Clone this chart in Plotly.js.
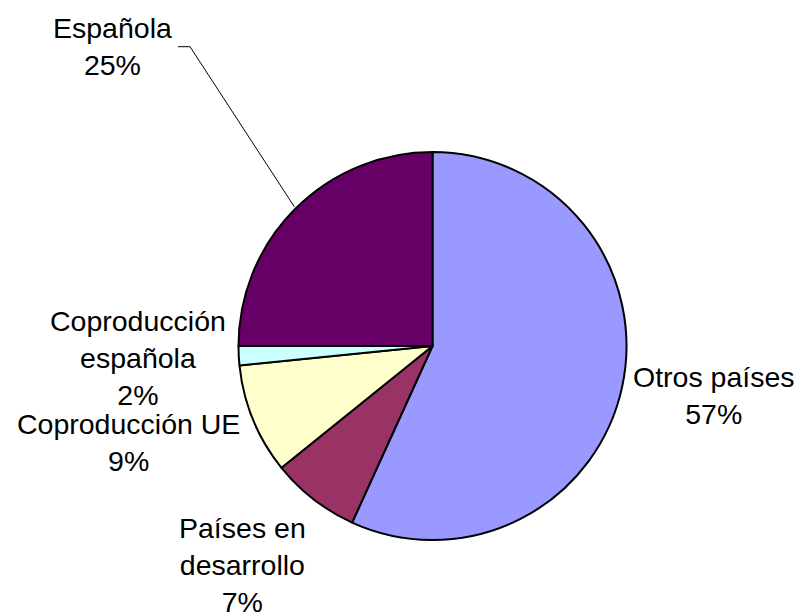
<!DOCTYPE html>
<html>
<head>
<meta charset="utf-8">
<script src="https://cdn.plot.ly/plotly-3.0.1.min.js"></script>
<style>
  html, body { margin: 0; padding: 0; background: #ffffff; }
  #chart { width: 805px; height: 614px; }
</style>
</head>
<body>
<div id="chart"></div>
<script>
// Data (clockwise from 12 o'clock)
const categories = ["Otros países", "Países en desarrollo", "Coproducción UE", "Coproducción española", "Española"];
const labelLines = ["Otros países", "Países en<br>desarrollo", "Coproducción UE", "Coproducción<br>española", "Española"];
const values = [56.8, 7.4, 9.2, 1.6, 25.0];
const colors = ["#9999FF", "#993366", "#FFFFCC", "#CCFFFF", "#660066"];

// Label placement (pixel centres in 805x614 canvas)
const labelPos = [[713.5, 395.5], [242, 564.5], [128.5, 442], [138, 358], [112, 46.5]];

const W = 805, H = 614;
const total = values.reduce((a, b) => a + b, 0);
const pct = values.map(v => Math.round(v / total * 100) + "%");

const cx = 432.5, cy = 346, r = 194;

const trace = {
  type: "pie",
  labels: categories,
  values: values,
  sort: false,
  direction: "clockwise",
  rotation: 0,
  textinfo: "none",
  hoverinfo: "none",
  marker: { colors: colors, line: { color: "#000000", width: 2 } },
  domain: {
    x: [(cx - r) / W, (cx + r) / W],
    y: [(H - cy - r) / H, (H - cy + r) / H]
  },
  showlegend: false
};

const annotations = categories.map((c, i) => ({
  xref: "paper", yref: "paper",
  x: labelPos[i][0] / W, y: 1 - labelPos[i][1] / H,
  xanchor: "center", yanchor: "middle",
  text: labelLines[i] + "<br>" + pct[i],
  showarrow: false,
  align: "center",
  font: { family: "Liberation Sans, Arial, sans-serif", size: 28.5, color: "#000000" }
}));

const leader = [[178, 46.7], [190, 46.7], [294.3, 206.7]];
const path = leader.map((p, i) => (i === 0 ? "M" : "L") + (p[0] / W) + "," + (1 - p[1] / H)).join(" ");

const layout = {
  width: W, height: H,
  margin: { l: 0, r: 0, t: 0, b: 0 },
  paper_bgcolor: "#ffffff",
  plot_bgcolor: "#ffffff",
  showlegend: false,
  annotations: annotations,
  shapes: [{
    type: "path", xref: "paper", yref: "paper",
    path: path,
    line: { color: "#000000", width: 1 }
  }]
};

Plotly.newPlot("chart", [trace], layout, { staticPlot: true, displayModeBar: false });
</script>
</body>
</html>
